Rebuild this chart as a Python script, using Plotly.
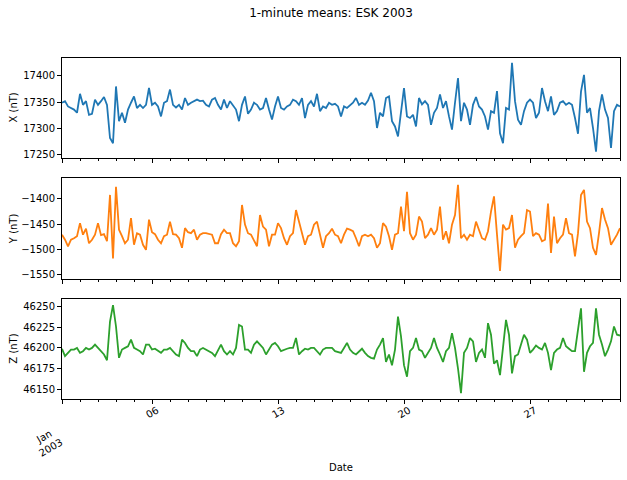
import pandas as pd
import plotly.graph_objects as go
from plotly.subplots import make_subplots

# 4-hourly samples, 2003-01-01 00:00 .. 2003-02-01 00:00
start_time = "2003-01-01 00:00"
step = "4h"

x_nt = [
    17349, 17352, 17342, 17339, 17336, 17330, 17366, 17345, 17352, 17326,
    17328, 17355, 17345, 17352, 17360, 17345, 17282, 17272, 17380, 17314,
    17330, 17311, 17336, 17349, 17361, 17339, 17345, 17339, 17345, 17377,
    17345, 17349, 17342, 17323, 17349, 17352, 17374, 17345, 17340, 17345,
    17336, 17358, 17345, 17349, 17352, 17355, 17352, 17353, 17345, 17342,
    17355, 17358, 17345, 17336, 17355, 17339,
    17352, 17345, 17336, 17314, 17345, 17361, 17328, 17336, 17349, 17345,
    17336, 17339, 17358, 17336, 17317, 17342, 17361, 17339, 17336, 17342,
    17345, 17355, 17352, 17345, 17358, 17320, 17345, 17352, 17342, 17366,
    17333, 17342, 17339, 17349, 17345, 17347, 17342, 17323, 17342, 17339,
    17345, 17349, 17358, 17345, 17349, 17345, 17353, 17368, 17352, 17301,
    17330, 17323, 17358, 17361, 17314, 17304, 17285, 17333, 17377, 17323,
    17320, 17326, 17304, 17358,
    17346, 17352, 17345, 17307, 17330, 17339, 17365, 17339, 17352, 17323,
    17298, 17349, 17396, 17314, 17349, 17336, 17307, 17345, 17360, 17342,
    17336, 17323, 17298, 17333, 17330, 17371, 17291, 17272, 17339, 17336,
    17425, 17352, 17317, 17307, 17333, 17349, 17355, 17349, 17320, 17330,
    17377, 17352, 17333, 17361, 17326, 17333, 17349, 17352, 17345, 17349,
    17345, 17320, 17290, 17370, 17402, 17330, 17339, 17301, 17256, 17333,
    17365, 17336, 17320, 17263, 17333, 17345, 17342,
]

y_nt = [
    -1471, -1481, -1494, -1481, -1478, -1474, -1448, -1471, -1459, -1488,
    -1481, -1471, -1448, -1472, -1470, -1484, -1392, -1518, -1376, -1461,
    -1474, -1488, -1481, -1438, -1491, -1468, -1471, -1491, -1501, -1441,
    -1466, -1470, -1481, -1488, -1474, -1471, -1445, -1470, -1471, -1478,
    -1497, -1458, -1466, -1468, -1461, -1481, -1471, -1468, -1468, -1470,
    -1471, -1488, -1488, -1470, -1461, -1468,
    -1468, -1488, -1494, -1484, -1412, -1451, -1468, -1471, -1484, -1494,
    -1432, -1455, -1461, -1494, -1471, -1471, -1448, -1458, -1478, -1491,
    -1474, -1468, -1422, -1445, -1468, -1491, -1474, -1471, -1451, -1445,
    -1471, -1497, -1474, -1468, -1459, -1471, -1474, -1488, -1471, -1459,
    -1461, -1464, -1478, -1494, -1474, -1471, -1474, -1471, -1478, -1497,
    -1488, -1448, -1455, -1474, -1501, -1471, -1468, -1415, -1464, -1386,
    -1468, -1481, -1471, -1435,
    -1445, -1478, -1471, -1458, -1471, -1461, -1415, -1481, -1464, -1488,
    -1451, -1432, -1372, -1478, -1471, -1481, -1471, -1474, -1445, -1461,
    -1478, -1481, -1464, -1425, -1395, -1471, -1543, -1451, -1461, -1458,
    -1432, -1497, -1481, -1474, -1468, -1422, -1425, -1474, -1468, -1471,
    -1484, -1481, -1409, -1507, -1435, -1488, -1478, -1471, -1438, -1468,
    -1471, -1514, -1468, -1392, -1382, -1445, -1458, -1497, -1511, -1468,
    -1418, -1441, -1458, -1491, -1481, -1471, -1458,
]

z_nt = [
    46199, 46190, 46194, 46198, 46198, 46200, 46194, 46196, 46200, 46198,
    46200, 46204, 46200, 46196, 46192, 46185, 46232, 46252, 46226, 46188,
    46198, 46200, 46202, 46210, 46200, 46198, 46196, 46192, 46204, 46204,
    46198, 46199, 46196, 46194, 46198, 46198, 46200, 46196, 46192, 46190,
    46210, 46206, 46200, 46196, 46196, 46190, 46198, 46200, 46198, 46196,
    46194, 46190, 46198, 46204, 46196, 46192,
    46196, 46192, 46200, 46228, 46226, 46198, 46198, 46194, 46204, 46208,
    46204, 46200, 46192, 46198, 46204, 46206, 46202, 46196, 46198, 46199,
    46200, 46200, 46212, 46192, 46196, 46199, 46198, 46200, 46200, 46196,
    46192, 46198, 46200, 46200, 46200, 46196, 46195, 46194, 46200, 46206,
    46198, 46194, 46192, 46196, 46199, 46194, 46190, 46188, 46187, 46198,
    46204, 46212, 46183, 46192, 46179, 46198, 46238, 46214, 46179, 46165,
    46196, 46200, 46212, 46198,
    46196, 46188, 46194, 46200, 46212, 46200, 46192, 46183, 46196, 46200,
    46218, 46200, 46175, 46145, 46194, 46200, 46212, 46208, 46183, 46194,
    46198, 46188, 46230, 46216, 46181, 46185, 46167, 46204, 46234, 46216,
    46169, 46190, 46192, 46204, 46216, 46210, 46194, 46198, 46203, 46200,
    46198, 46206, 46194, 46173, 46194, 46198, 46200, 46212, 46202, 46199,
    46196, 46196, 46224, 46248, 46171, 46194, 46202, 46206, 46248, 46216,
    46204, 46190, 46198, 46208, 46226, 46216, 46215,
]

x_tick_dates = ["2003-01-01", "2003-01-06", "2003-01-13", "2003-01-20", "2003-01-27"]
x_tick_text = ["Jan<br>2003", "06", "13", "20", "27"]
x_ticks_y = [17250, 17300, 17350, 17400]
y_ticks_y = [-1550, -1500, -1450, -1400]
z_ticks_y = [46150, 46175, 46200, 46225, 46250]

times = pd.date_range(start_time, periods=len(x_nt), freq=step)

colors = ["#1f77b4", "#ff7f0e", "#2ca02c"]
series = [x_nt, y_nt, z_nt]
labels = ["X (nT)", "Y (nT)", "Z (nT)"]
yticks = [x_ticks_y, y_ticks_y, z_ticks_y]
yranges = [[17244, 17434], [-1559, -1359], [46138, 46259]]
domains = [[0.7067, 1.0], [0.3519, 0.6472], [0.0, 0.2924]]

FONT = "DejaVu Sans"
PLOT_H = 341.0
fig = make_subplots(rows=3, cols=1, shared_xaxes=True)

for i in range(3):
    fig.add_trace(
        go.Scatter(x=times, y=series[i], mode="lines",
                   line=dict(color=colors[i], width=1.8), showlegend=False),
        row=i + 1, col=1,
    )
    yname = "yaxis" if i == 0 else f"yaxis{i + 1}"
    xname = "xaxis" if i == 0 else f"xaxis{i + 1}"
    fig.layout[yname].update(
        domain=domains[i], range=yranges[i], tickvals=yticks[i],
        tickformat="d", automargin=False,
        showline=True, mirror=True, linecolor="black", linewidth=1,
        ticks="outside", ticklen=4, tickcolor="black", showgrid=False,
        zeroline=False, tickfont=dict(family=FONT, size=10, color="black"),
    )
    fig.layout[xname].update(
        range=["2003-01-01", "2003-02-01"], tickvals=x_tick_dates,
        showticklabels=False, automargin=False,
        showline=True, mirror=True, linecolor="black", linewidth=1,
        ticks="outside", ticklen=4, tickcolor="black", showgrid=False,
        zeroline=False,
        minor=dict(ticks="outside", ticklen=2, tickcolor="black",
                   dtick=86400000, tick0="2003-01-01", showgrid=False),
    )
    fig.add_annotation(
        text=labels[i], xref="paper", yref="paper", x=(13.5 - 62) / 558,
        xanchor="center", yanchor="middle",
        y=(domains[i][0] + domains[i][1]) / 2, textangle=-90,
        showarrow=False, font=dict(family=FONT, size=10, color="black"),
    )

# rotated date tick labels on the bottom axis
for d, t in zip(x_tick_dates, x_tick_text):
    first = t.startswith("Jan")
    fig.add_annotation(
        text=t, xref="x3", yref="paper", x=d,
        y=-(442.3 - 399) / PLOT_H if first else -(412.7 - 399) / PLOT_H,
        xshift=-14.5 if first else 0, xanchor="center", yanchor="middle",
        textangle=-30, showarrow=False,
        font=dict(family=FONT, size=10, color="black"),
    )

fig.add_annotation(text="Date", xref="paper", yref="paper", x=0.5,
                   y=-(467 - 399) / PLOT_H, showarrow=False,
                   xanchor="center", yanchor="middle",
                   font=dict(family=FONT, size=10, color="black"))

fig.update_layout(
    width=627, height=480,
    margin=dict(l=62, r=7, t=58, b=81, autoexpand=False),
    paper_bgcolor="white", plot_bgcolor="white",
    title=dict(text="1-minute means: ESK 2003", x=331 / 627, xref="container",
               xanchor="center", y=1 - 13 / 480, yref="container",
               yanchor="middle", font=dict(family=FONT, size=12, color="black")),
)

fig.write_html("out.html", config={"displayModeBar": False},
               post_script="document.body.style.margin='0';")
